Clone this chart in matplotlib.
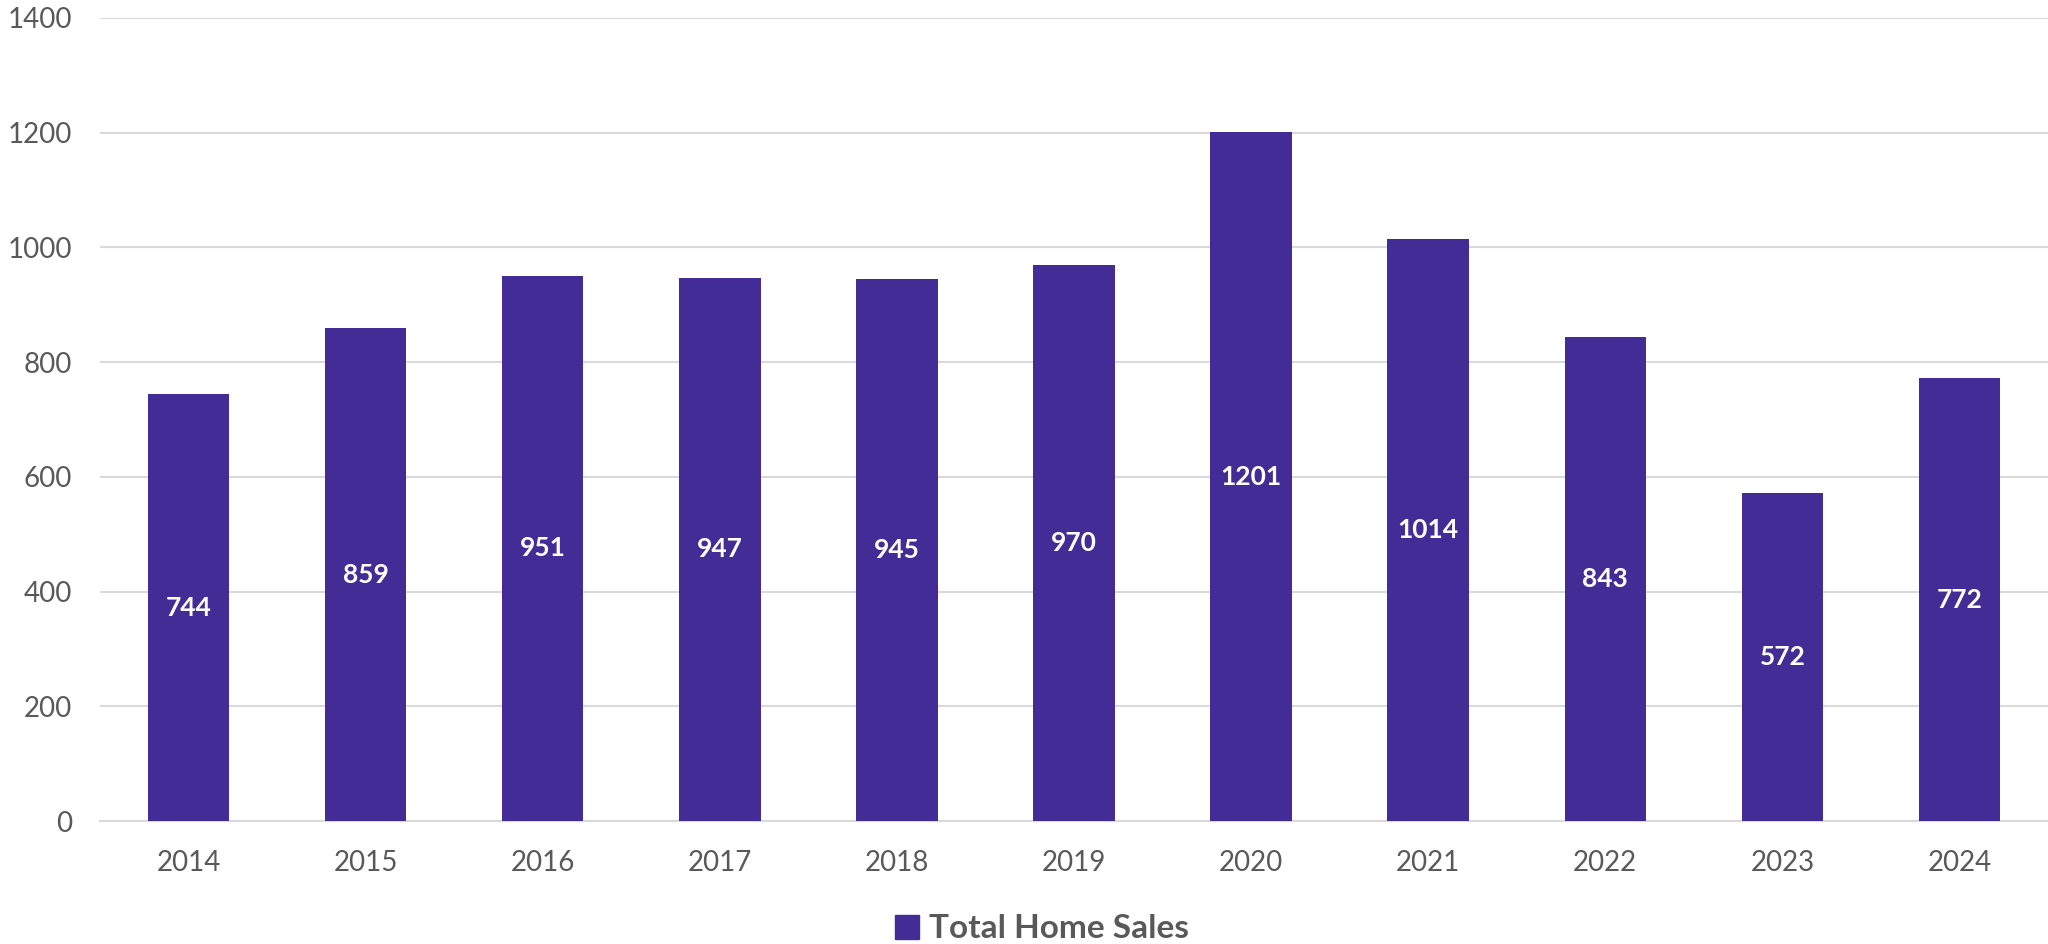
import matplotlib.pyplot as plt
from matplotlib.patches import Patch

years = ["2014", "2015", "2016", "2017", "2018", "2019", "2020", "2021", "2022", "2023", "2024"]
sales = [744, 859, 951, 947, 945, 970, 1201, 1014, 843, 572, 772]
yticks = [0, 200, 400, 600, 800, 1000, 1200, 1400]

BAR = "#442C96"
GREY = "#595959"
GRID = "#D9D9D9"
plt.rcParams['font.family'] = ['Lato', 'DejaVu Sans']

W, H = 2048, 944
fig = plt.figure(figsize=(W / 100, H / 100), dpi=100)
ax = fig.add_axes([100 / W, (H - 821) / H, (W - 100) / W, (821 - 18) / H])

x = range(len(years))
ax.bar(x, sales, width=0.46, color=BAR, zorder=3)
for xi, v in zip(x, sales):
    ax.text(xi, v / 2, str(v), ha='center', va='center', color='white',
            fontsize=19, fontweight='bold', zorder=4)

ax.set_xlim(-0.5, len(years) - 0.5)
ax.set_ylim(0, 1400)
ax.set_yticks(yticks)
ax.set_xticks(list(x))
ax.set_xticklabels(years)
ax.yaxis.grid(True, color=GRID, linewidth=1.5, zorder=0)
ax.tick_params(axis='both', length=0, labelsize=20, labelcolor=GREY)
ax.tick_params(axis='y', pad=20)
ax.tick_params(axis='x', pad=21)
for s in ['top', 'right', 'left']:
    ax.spines[s].set_visible(False)
ax.spines['bottom'].set_color(GRID)
ax.spines['bottom'].set_linewidth(1.5)

fig.legend(handles=[Patch(color=BAR, label='Total Home Sales')],
           loc='center', bbox_to_anchor=(1042 / W, 1 - 929 / H),
           frameon=False, handlelength=0.7, handleheight=0.7, handletextpad=0.3,
           prop={'size': 24, 'weight': 'bold'}, labelcolor=GREY)

fig.savefig("out.png", dpi=100)
